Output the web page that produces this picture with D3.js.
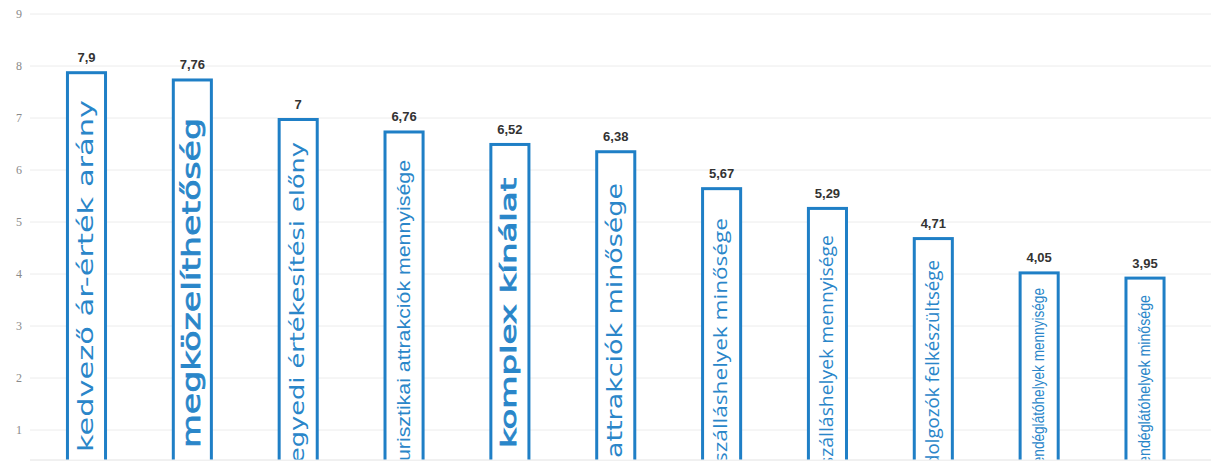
<!DOCTYPE html>
<html>
<head>
<meta charset="utf-8">
<script src="https://cdn.jsdelivr.net/npm/d3@7"></script>
<style>
  html, body { margin: 0; padding: 0; background: #ffffff; }
  svg { display: block; }
</style>
</head>
<body>
<svg id="chart" width="1211" height="466"></svg>
<script>
// ---- data ----
const categories = [
  "kedvező ár-érték arány",
  "megközelíthetőség",
  "egyedi értékesítési előny",
  "turisztikai attrakciók mennyisége",
  "komplex kínálat",
  "attrakciók minősége",
  "szálláshelyek minősége",
  "szálláshelyek mennyisége",
  "dolgozók felkészültsége",
  "vendéglátóhelyek mennyisége",
  "vendéglátóhelyek minősége"
];
const values = [7.9, 7.76, 7, 6.76, 6.52, 6.38, 5.67, 5.29, 4.71, 4.05, 3.95];
const yTicks = [1, 2, 3, 4, 5, 6, 7, 8, 9];

// ---- label styling (per category, in-bar rotated text) ----
const labelStyle = [
  {start: 452, end: 100, fs: 21, emb: 0,   ff: "DejaVu Sans"},
  {start: 448, end: 118, fs: 24, emb: 0.7, ff: "DejaVu Sans"},
  {start: 463, end: 142, fs: 19, emb: 0,   ff: "DejaVu Sans"},
  {start: 467, end: 160, fs: 19, emb: 0,   ff: "Liberation Sans"},
  {start: 448, end: 178, fs: 22, emb: 0.8, ff: "DejaVu Sans"},
  {start: 458, end: 183, fs: 21, emb: 0,   ff: "DejaVu Sans"},
  {start: 463, end: 218, fs: 19, emb: 0,   ff: "Open Sans"},
  {start: 466, end: 235, fs: 18, emb: 0,   ff: "Open Sans"},
  {start: 466, end: 260, fs: 18, emb: 0,   ff: "Open Sans"},
  {start: 471, end: 288, fs: 16, emb: 0,   ff: "Liberation Sans"},
  {start: 471, end: 295, fs: 16, emb: 0,   ff: "Liberation Sans"}
];

const W = 1211, H = 466;
const clipBottom = 459.5;
const svg = d3.select("#chart");

const x = d3.scaleBand()
  .domain(categories)
  .range([34.2, 1197.3])
  .paddingInner(0.612)
  .paddingOuter(0.3);

const y = d3.scaleLinear().domain([0, 9]).range([482, 14]);

svg.append("defs").append("clipPath").attr("id", "plotclip")
  .append("rect").attr("x", 0).attr("y", 0).attr("width", W).attr("height", clipBottom);

// gridlines
svg.append("g").selectAll("line").data(yTicks).join("line")
  .attr("x1", 30).attr("x2", W)
  .attr("y1", d => y(d)).attr("y2", d => y(d))
  .attr("stroke", "#ececec").attr("stroke-width", 1);

// y tick labels
const yAxis = d3.axisLeft(y).tickValues(yTicks).tickSize(0).tickFormat(d3.format("d"));
const gy = svg.append("g").attr("transform", "translate(19,0)").call(yAxis);
gy.select(".domain").remove();
gy.selectAll("text")
  .attr("x", 0)
  .attr("text-anchor", "middle")
  .attr("fill", "#8a8a8a")
  .style("font-family", "Liberation Serif, serif")
  .style("font-size", "12px");

// bottom faint line
svg.append("line").attr("x1", 30).attr("x2", W)
  .attr("y1", clipBottom + 0.5).attr("y2", clipBottom + 0.5)
  .attr("stroke", "#e2e2e2").attr("stroke-width", 1);

const plot = svg.append("g").attr("clip-path", "url(#plotclip)");
const bw = x.bandwidth();
const blue = "#1f7fc6";
const textBlue = "#2a86c9";

plot.selectAll("rect.bar").data(values).join("rect")
  .attr("class", "bar")
  .attr("x", (d, i) => x(categories[i]) + 1.5)
  .attr("width", bw - 3)
  .attr("y", d => y(d) + 1.5)
  .attr("height", d => y(0) - y(d))
  .attr("fill", "#ffffff")
  .attr("stroke", blue)
  .attr("stroke-width", 3);

// rotated labels inside bars
plot.selectAll("text.cat").data(categories).join("text")
  .attr("class", "cat")
  .attr("transform", (d, i) => {
    const s = labelStyle[i];
    const cx = x(d) + bw / 2 + s.fs * 0.3;
    return `translate(${cx},${s.start}) rotate(-90)`;
  })
  .attr("text-anchor", "start")
  .attr("textLength", (d, i) => labelStyle[i].start - labelStyle[i].end)
  .attr("lengthAdjust", "spacingAndGlyphs")
  .attr("fill", textBlue)
  .attr("stroke", (d, i) => labelStyle[i].emb > 0 ? textBlue : "none")
  .attr("stroke-width", (d, i) => labelStyle[i].emb)
  .style("font-family", (d, i) => labelStyle[i].ff)
  .style("font-size", (d, i) => labelStyle[i].fs + "px")
  .text(d => d);

// value labels
svg.append("g").selectAll("text").data(values).join("text")
  .attr("x", (d, i) => x(categories[i]) + bw / 2)
  .attr("y", d => y(d) - 9)
  .attr("text-anchor", "middle")
  .attr("fill", "#333333")
  .style("font-family", "Liberation Sans, Arial, sans-serif")
  .style("font-weight", "bold")
  .style("font-size", "13px")
  .text(d => String(d).replace(".", ","));
</script>
</body>
</html>
